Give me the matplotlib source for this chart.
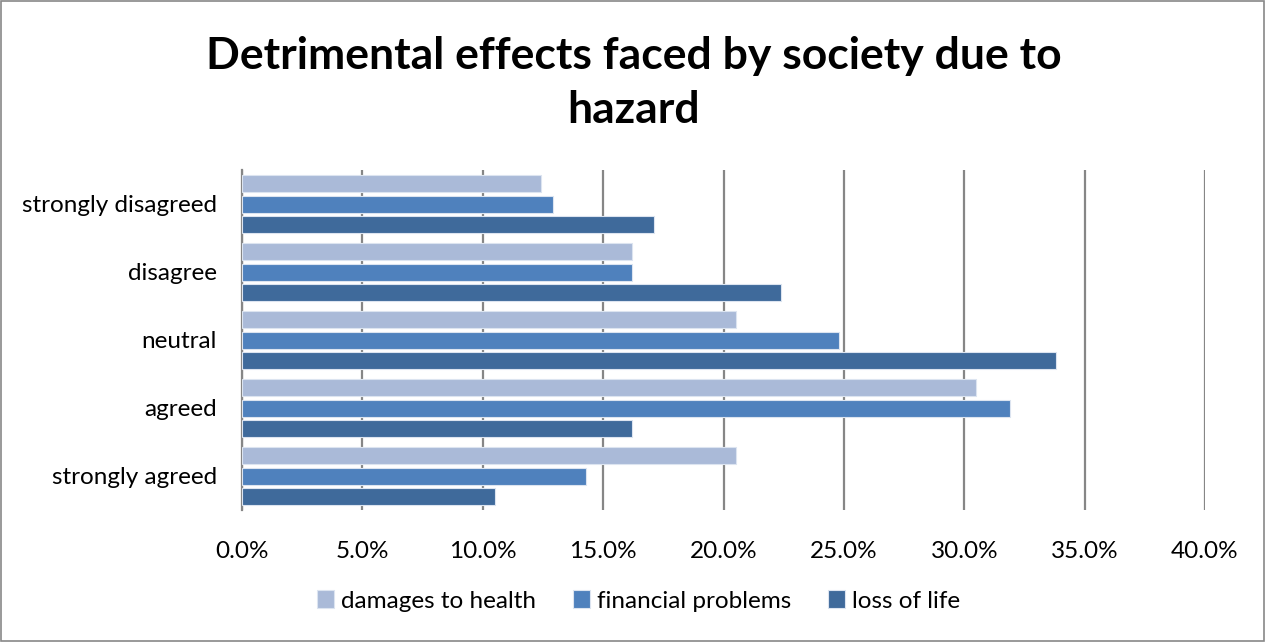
import numpy as np
import matplotlib.pyplot as plt
from matplotlib.patches import Rectangle

plt.rcParams['font.family'] = ['Lato', 'DejaVu Sans']

# survey responses (percent of respondents)
categories = ['strongly disagreed', 'disagree', 'neutral', 'agreed', 'strongly agreed']
health = [12.4, 16.2, 20.5, 30.5, 20.5]
financial = [12.9, 16.2, 24.8, 31.9, 14.3]
life = [17.1, 22.4, 33.8, 16.2, 10.5]
series_names = ['damages to health', 'financial problems', 'loss of life']
colors = ['#AABAD8', '#4F81BD', '#3F6A9B']

fig = plt.figure(figsize=(12.67, 6.42), dpi=100)
ax = fig.add_axes([242 / 1267, 1 - 510 / 642, (1205 - 242) / 1267, (510 - 170) / 642])

# outer chart border
fig.patches.append(Rectangle((0.001, 0.002), 0.997, 0.996, transform=fig.transFigure,
                             fill=False, edgecolor='#888888', linewidth=1.2))

y = np.arange(len(categories))[::-1]
pitch = 0.295
h = 0.25
for i, (vals, name, c) in enumerate(zip([health, financial, life], series_names, colors)):
    ax.barh(y + (1 - i) * pitch, vals, height=h, color=c, label=name,
            edgecolor='#DCE4F0', linewidth=0.8, zorder=3)

ax.set_xlim(0, 40)
ax.set_ylim(-0.5, len(categories) - 0.5)
ax.set_xticks(np.arange(0, 41, 5))
ax.set_xticklabels([f'{v:.1f}%' for v in np.arange(0, 41, 5)], fontsize=17.5)
ax.set_yticks(y)
ax.set_yticklabels(categories, fontsize=17.5)
ax.tick_params(axis='both', length=0)
ax.tick_params(axis='x', pad=22)
ax.tick_params(axis='y', pad=18)
ax.grid(axis='x', color='#868686', linewidth=1.6, zorder=0)
for s in ['top', 'right', 'bottom']:
    ax.spines[s].set_visible(False)
ax.spines['left'].set_color('#868686')
ax.spines['left'].set_linewidth(1.6)

fig.text(0.5, 1 - 83 / 642, 'Detrimental effects faced by society due to\nhazard',
         ha='center', va='center', fontsize=32, fontweight='bold', linespacing=1.43)

fig.legend(loc='center', bbox_to_anchor=(0.504, 1 - 601 / 642), ncol=3, frameon=False,
           fontsize=17.5, handlelength=0.7, handleheight=0.7, handletextpad=0.3,
           columnspacing=1.5)

fig.savefig('out.png', dpi=100)
